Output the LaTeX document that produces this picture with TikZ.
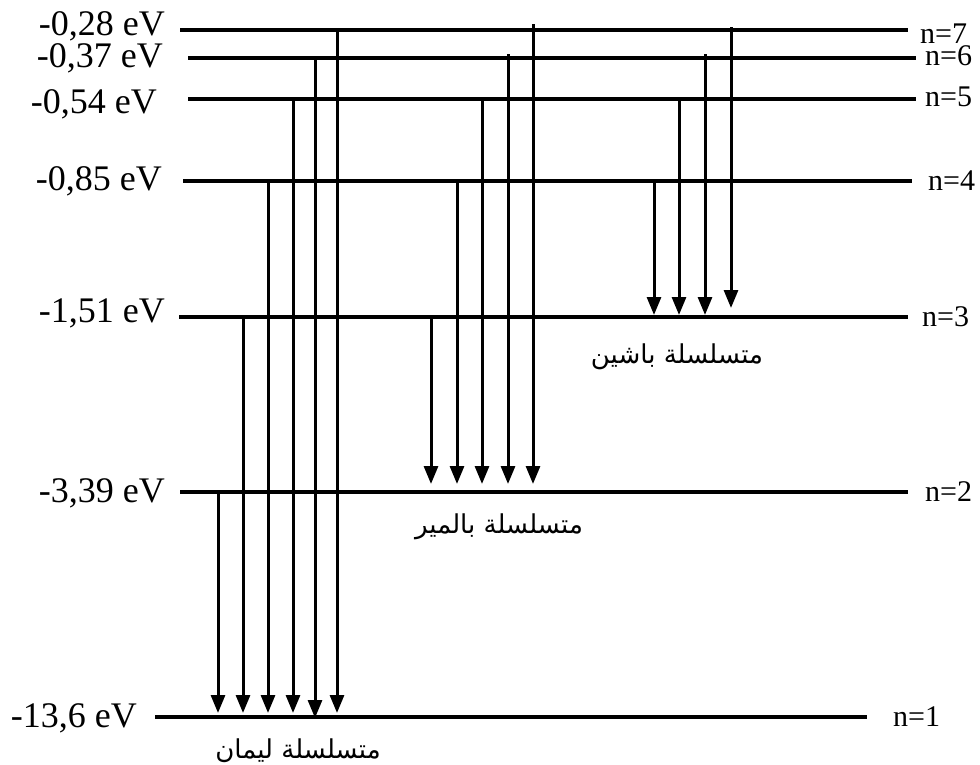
\documentclass[tikz,border=0pt]{standalone}
\usepackage{fontspec}
\setmainfont{Liberation Serif}
\newfontfamily\arabicfont[Script=Arabic]{DejaVu Sans}
\TeXXeTstate=1
\usetikzlibrary{arrows.meta}
\begin{document}
\begin{tikzpicture}[x=1pt,y=-1pt,
  level/.style={line width=4pt},
  trans/.style={line width=3pt,-{Triangle[length=18pt,width=14pt]}},
  evlab/.style={anchor=base east,inner sep=0pt,font=\rmfamily\fontsize{36}{40}\selectfont},
  nlab/.style={anchor=base west,inner sep=0pt,font=\rmfamily\fontsize{30}{34}\selectfont},
  serlab/.style={anchor=base,inner sep=0pt,font=\arabicfont\fontsize{26}{30}\selectfont}]
\useasboundingbox (0,0) rectangle (980,764);
% level end points
\coordinate (L7s) at (180,30);  \coordinate (L7e) at (908,30);
\coordinate (L6s) at (188,58);  \coordinate (L6e) at (916,58);
\coordinate (L5s) at (188,99);  \coordinate (L5e) at (916,99);
\coordinate (L4s) at (183,181); \coordinate (L4e) at (912,181);
\coordinate (L3s) at (179,317); \coordinate (L3e) at (908,317);
\coordinate (L2s) at (180,492); \coordinate (L2e) at (908,492);
\coordinate (L1s) at (155,717); \coordinate (L1e) at (867,717);
\foreach \i in {1,...,7} {\draw[level] (L\i s) -- (L\i e);}
% energy labels
\node[evlab] (e7) at (165,35) {-0,28 eV};
\node[evlab] (e6) at (163,67) {-0,37 eV};
\node[evlab] (e5) at (157,113) {-0,54 eV};
\node[evlab] (e4) at (162,190) {-0,85 eV};
\node[evlab] (e3) at (165,322) {-1,51 eV};
\node[evlab] (e2) at (165,502) {-3,39 eV};
\node[evlab] (e1) at (137,727) {-13,6 eV};
% n labels
\node[nlab] (n7) at (920,43) {n=7};
\node[nlab] (n6) at (925,65) {n=6};
\node[nlab] (n5) at (925,106) {n=5};
\node[nlab] (n4) at (928,190) {n=4};
\node[nlab] (n3) at (922,326) {n=3};
\node[nlab] (n2) at (925,501) {n=2};
\node[nlab] (n1) at (893,726) {n=1};
% Lyman series
\coordinate (ly2s) at (218,492); \coordinate (ly2e) at (218,713);
\coordinate (ly3s) at (243,317); \coordinate (ly3e) at (243,713);
\coordinate (ly4s) at (268,181); \coordinate (ly4e) at (268,713);
\coordinate (ly5s) at (293,99);  \coordinate (ly5e) at (293,713);
\coordinate (ly6s) at (315,58);  \coordinate (ly6e) at (315,718);
\coordinate (ly7s) at (337,30);  \coordinate (ly7e) at (337,713);
\foreach \i in {2,...,7} {\draw[trans] (ly\i s) -- (ly\i e);}
% Balmer series
\coordinate (ba3s) at (431,317); \coordinate (ba3e) at (431,484);
\coordinate (ba4s) at (457,181); \coordinate (ba4e) at (457,484);
\coordinate (ba5s) at (482,99);  \coordinate (ba5e) at (482,484);
\coordinate (ba6s) at (508,54);  \coordinate (ba6e) at (508,484);
\coordinate (ba7s) at (533,24);  \coordinate (ba7e) at (533,484);
\foreach \i in {3,...,7} {\draw[trans] (ba\i s) -- (ba\i e);}
% Paschen series
\coordinate (pa4s) at (654,181); \coordinate (pa4e) at (654,315);
\coordinate (pa5s) at (679,99);  \coordinate (pa5e) at (679,315);
\coordinate (pa6s) at (705,54);  \coordinate (pa6e) at (705,315);
\coordinate (pa7s) at (731,27);  \coordinate (pa7e) at (731,308);
\foreach \i in {4,...,7} {\draw[trans] (pa\i s) -- (pa\i e);}
% series names
\node[serlab] (lyman) at (298,758) {\beginR متسلسلة ليمان\endR};
\node[serlab] (balmer) at (499,533) {\beginR متسلسلة بالمير\endR};
\node[serlab] (paschen) at (677,363) {\beginR متسلسلة باشين\endR};
\end{tikzpicture}
\end{document}
